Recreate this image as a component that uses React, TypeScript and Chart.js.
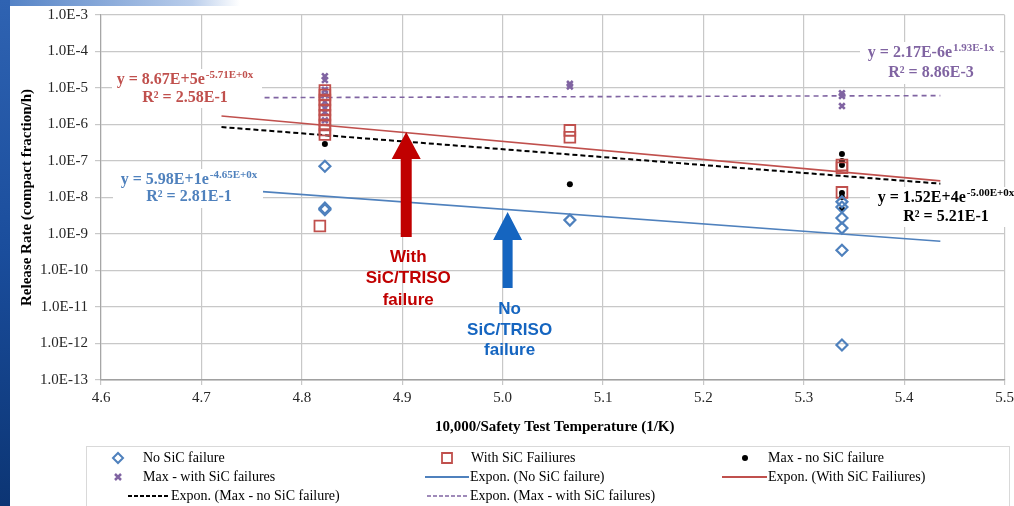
import React, { useEffect, useRef } from "react";
import { Chart, registerables } from "chart.js";

Chart.register(...registerables);

// ---- axis ticks ----
const xTickValues = [4.6, 4.7, 4.8, 4.9, 5.0, 5.1, 5.2, 5.3, 5.4, 5.5];
const xTickLabels = ["4.6", "4.7", "4.8", "4.9", "5.0", "5.1", "5.2", "5.3", "5.4", "5.5"];
const yTickValues = [1e-13, 1e-12, 1e-11, 1e-10, 1e-9, 1e-8, 1e-7, 1e-6, 1e-5, 1e-4, 1e-3];
const yTickLabels = ["1.0E-13", "1.0E-12", "1.0E-11", "1.0E-10", "1.0E-9", "1.0E-8", "1.0E-7", "1.0E-6", "1.0E-5", "1.0E-4", "1.0E-3"];

// ---- series: No SiC failure ----
const noSiCX = [4.823, 4.823, 4.823, 5.067, 5.338, 5.338, 5.338, 5.338, 5.338, 5.338];
const noSiCY = [7.2e-8, 5.1e-9, 4.6e-9, 2.4e-9, 7.6e-9, 5.5e-9, 2.75e-9, 1.45e-9, 3.6e-10, 9.1e-13];

// ---- series: With SiC Failiures ----
const withSiCX = [4.823, 4.823, 4.823, 4.823, 4.823, 4.823, 4.823, 4.823, 4.823, 4.823, 4.818, 5.067, 5.067, 5.338, 5.338, 5.338];
const withSiCY = [8.55e-6, 6.4e-6, 4.7e-6, 3.4e-6, 2.5e-6, 1.8e-6, 1.33e-6, 9.7e-7, 7.1e-7, 5.3e-7, 1.66e-9, 6.9e-7, 4.5e-7, 7.8e-8, 6.5e-8, 1.38e-8];

// ---- series: Max - no SiC failure ----
const maxNoSiCX = [4.823, 5.067, 5.338, 5.338, 5.338, 5.338, 5.338, 5.338];
const maxNoSiCY = [2.9e-7, 2.3e-8, 1.56e-7, 1.0e-7, 7.8e-8, 1.33e-8, 1.03e-8, 4.85e-9];

// ---- series: Max - with SiC failures ----
const maxWithSiCX = [4.823, 4.823, 4.823, 4.823, 4.823, 4.823, 4.823, 4.823, 5.067, 5.067, 5.338, 5.338, 5.338];
const maxWithSiCY = [2.1e-5, 1.66e-5, 8.9e-6, 6.5e-6, 4.2e-6, 2.8e-6, 2.2e-6, 1.3e-6, 1.3e-5, 1.1e-5, 7.2e-6, 6.0e-6, 3.2e-6];

// ---- exponential trendlines (end points) ----
const trendNoSiCX = [4.72, 5.436];
const trendNoSiCY = [1.75e-8, 6.3e-10];
const trendWithSiCX = [4.72, 5.436];
const trendWithSiCY = [1.71e-6, 2.86e-8];
const trendMaxNoSiCX = [4.72, 5.436];
const trendMaxNoSiCY = [8.5e-7, 2.39e-8];
const trendMaxWithSiCX = [4.745, 5.436];
const trendMaxWithSiCY = [5.42e-6, 6.2e-6];

// ---- labels ----
const legendLabels = [
  "No SiC failure",
  "With SiC Failiures",
  "Max - no SiC failure",
  "Max - with SiC failures",
  "Expon. (No SiC failure)",
  "Expon. (With SiC Failiures)",
  "Expon. (Max - no SiC failure)",
  "Expon. (Max - with SiC failures)",
];
const xTitle = "10,000/Safety Test Temperature (1/K)";
const yTitle = "Release Rate (compact fraction/h)";

const BLUE = "#4F81BD";
const RED = "#C0504D";
const PURPLE = "#8064A2";
const BLACK = "#000000";
const SERIF = "'Liberation Serif', 'Times New Roman', serif";
const SANS = "'Liberation Sans', Arial, sans-serif";

const pts = (xs: number[], ys: number[]) => xs.map((x, i) => ({ x, y: ys[i] }));

function drawMarker(ctx: CanvasRenderingContext2D, kind: string, x: number, y: number) {
  ctx.save();
  ctx.beginPath();
  if (kind === "diamond") {
    ctx.strokeStyle = BLUE;
    ctx.lineWidth = 2;
    ctx.moveTo(x - 5, y);
    ctx.lineTo(x, y - 5);
    ctx.lineTo(x + 5, y);
    ctx.lineTo(x, y + 5);
    ctx.closePath();
    ctx.stroke();
  } else if (kind === "square") {
    ctx.strokeStyle = RED;
    ctx.lineWidth = 1.8;
    ctx.rect(x - 5, y - 5, 10, 10);
    ctx.stroke();
  } else if (kind === "dot") {
    ctx.fillStyle = BLACK;
    ctx.arc(x, y, 3, 0, Math.PI * 2);
    ctx.fill();
  } else if (kind === "x") {
    ctx.strokeStyle = PURPLE;
    ctx.lineWidth = 2.5;
    ctx.moveTo(x - 3, y - 3);
    ctx.lineTo(x + 3, y + 3);
    ctx.moveTo(x + 3, y - 3);
    ctx.lineTo(x - 3, y + 3);
    ctx.stroke();
  }
  ctx.restore();
}

function drawLineSample(ctx: CanvasRenderingContext2D, x0: number, x1: number, y: number, color: string, dash: number[], w: number) {
  ctx.save();
  ctx.strokeStyle = color;
  ctx.lineWidth = w;
  ctx.setLineDash(dash);
  ctx.beginPath();
  ctx.moveTo(x0, y);
  ctx.lineTo(x1, y);
  ctx.stroke();
  ctx.restore();
}

function drawEquation(
  ctx: CanvasRenderingContext2D,
  cx: number,
  y1: number,
  y2: number,
  main: string,
  sup: string,
  r2: string,
  color: string,
  box: number[]
) {
  ctx.save();
  ctx.fillStyle = "#ffffff";
  ctx.fillRect(box[0], box[1], box[2] - box[0], box[3] - box[1]);
  ctx.fillStyle = color;
  ctx.textBaseline = "middle";
  ctx.textAlign = "left";
  ctx.font = `bold 16px ${SERIF}`;
  const w1 = ctx.measureText(main).width;
  ctx.font = `bold 11px ${SERIF}`;
  const w2 = ctx.measureText(sup).width;
  const start = cx - (w1 + w2 + 1) / 2;
  ctx.font = `bold 16px ${SERIF}`;
  ctx.fillText(main, start, y1);
  ctx.font = `bold 11px ${SERIF}`;
  ctx.fillText(sup, start + w1 + 1, y1 - 5);
  ctx.font = `bold 16px ${SERIF}`;
  ctx.textAlign = "center";
  ctx.fillText(r2, cx, y2);
  ctx.restore();
}

function drawArrow(ctx: CanvasRenderingContext2D, tx: number, ty: number, len: number, head: number, headHalf: number, shaftHalf: number, color: string) {
  ctx.save();
  ctx.fillStyle = color;
  ctx.beginPath();
  ctx.moveTo(tx, ty);
  ctx.lineTo(tx + headHalf, ty + head);
  ctx.lineTo(tx + shaftHalf, ty + head);
  ctx.lineTo(tx + shaftHalf, ty + len);
  ctx.lineTo(tx - shaftHalf, ty + len);
  ctx.lineTo(tx - shaftHalf, ty + head);
  ctx.lineTo(tx - headHalf, ty + head);
  ctx.closePath();
  ctx.fill();
  ctx.restore();
}

const overlayPlugin = {
  id: "overlay",
  afterDatasetsDraw(chart: any) {
    const ctx: CanvasRenderingContext2D = chart.ctx;
    const xs = chart.scales.x;
    const ys = chart.scales.y;

    // trendline equations
    drawEquation(ctx, 185, 80, 98, "y = 8.67E+5e", "-5.71E+0x", "R² = 2.58E-1", RED, [112, 69, 262, 108]);
    drawEquation(ctx, 189, 180, 197, "y = 5.98E+1e", "-4.65E+0x", "R² = 2.81E-1", BLUE, [113, 169, 263, 208]);
    drawEquation(ctx, 931, 53, 73, "y = 2.17E-6e", "1.93E-1x", "R² = 8.86E-3", PURPLE, [860, 42, 1000, 84]);
    drawEquation(ctx, 946, 198, 217, "y = 1.52E+4e", "-5.00E+0x", "R² = 5.21E-1", BLACK, [870, 187, 1014, 227]);

    // arrows
    const rtx = xs.getPixelForValue(4.904);
    const rty = ys.getPixelForValue(6.2e-7);
    drawArrow(ctx, rtx, rty, 105, 27, 14.5, 5.5, "#C00000");
    const btx = xs.getPixelForValue(5.005);
    const bty = ys.getPixelForValue(4.0e-9);
    drawArrow(ctx, btx, bty, 76, 28, 14.5, 5, "#1565C0");

    ctx.save();
    ctx.font = `bold 17px ${SANS}`;
    ctx.textAlign = "center";
    ctx.textBaseline = "middle";
    ctx.fillStyle = "#C00000";
    ctx.fillText("With", rtx + 2, rty + 125);
    ctx.fillText("SiC/TRISO", rtx + 2, rty + 146);
    ctx.fillText("failure", rtx + 2, rty + 168);
    ctx.fillStyle = "#1565C0";
    ctx.fillText("No", btx + 2, bty + 97);
    ctx.fillText("SiC/TRISO", btx + 2, bty + 118);
    ctx.fillText("failure", btx + 2, bty + 138);
    ctx.restore();

    // axis titles
    ctx.save();
    ctx.fillStyle = "#000";
    ctx.font = `bold 15px ${SERIF}`;
    ctx.textAlign = "center";
    ctx.textBaseline = "middle";
    ctx.fillText(xTitle, (xs.left + xs.right) / 2 + 2, 427);
    ctx.translate(27, (ys.top + ys.bottom) / 2);
    ctx.rotate(-Math.PI / 2);
    ctx.fillText(yTitle, 0, 0);
    ctx.restore();

    // legend
    ctx.save();
    ctx.strokeStyle = "#d9d9d9";
    ctx.lineWidth = 1;
    ctx.strokeRect(86.5, 446.5, 923, 70);
    ctx.fillStyle = "#000";
    ctx.font = `14px ${SERIF}`;
    ctx.textAlign = "left";
    ctx.textBaseline = "middle";
    const r1 = 458, r2 = 477, r3 = 496;
    drawMarker(ctx, "diamond", 118, r1);
    ctx.fillText(legendLabels[0], 143, r1);
    drawMarker(ctx, "square", 447, r1);
    ctx.fillText(legendLabels[1], 471, r1);
    drawMarker(ctx, "dot", 745, r1);
    ctx.fillText(legendLabels[2], 768, r1);
    drawMarker(ctx, "x", 118, r2);
    ctx.fillText(legendLabels[3], 143, r2);
    drawLineSample(ctx, 425, 469, r2, BLUE, [], 2);
    ctx.fillText(legendLabels[4], 470, r2);
    drawLineSample(ctx, 722, 767, r2, RED, [], 2);
    ctx.fillText(legendLabels[5], 768, r2);
    drawLineSample(ctx, 128, 170, r3, BLACK, [4, 2], 2);
    ctx.fillText(legendLabels[6], 171, r3);
    drawLineSample(ctx, 427, 469, r3, PURPLE, [4, 2], 1.5);
    ctx.fillText(legendLabels[7], 470, r3);
    ctx.restore();
  },
};

export default function App() {
  const ref = useRef<HTMLCanvasElement | null>(null);

  useEffect(() => {
    if (!ref.current) return;
    const gridColor = "#c8c8c8";
    const chart = new Chart(ref.current, {
      type: "scatter",
      data: {
        datasets: [
          {
            label: legendLabels[0],
            data: pts(noSiCX, noSiCY),
            pointStyle: "rectRot",
            pointRadius: 5.5,
            borderColor: BLUE,
            backgroundColor: "rgba(0,0,0,0)",
            borderWidth: 2.2,
          },
          {
            label: legendLabels[1],
            data: pts(withSiCX, withSiCY),
            pointStyle: "rect",
            pointRadius: 7.6,
            borderColor: RED,
            backgroundColor: "rgba(0,0,0,0)",
            borderWidth: 1.8,
          },
          {
            label: legendLabels[2],
            data: pts(maxNoSiCX, maxNoSiCY),
            pointStyle: "circle",
            pointRadius: 3,
            borderColor: BLACK,
            backgroundColor: BLACK,
            borderWidth: 0,
          },
          {
            label: legendLabels[3],
            data: pts(maxWithSiCX, maxWithSiCY),
            pointStyle: "crossRot",
            pointRadius: 4,
            borderColor: PURPLE,
            backgroundColor: PURPLE,
            borderWidth: 2.6,
          },
          {
            label: legendLabels[4],
            data: pts(trendNoSiCX, trendNoSiCY),
            showLine: true,
            pointRadius: 0,
            borderColor: BLUE,
            borderWidth: 1.6,
          },
          {
            label: legendLabels[5],
            data: pts(trendWithSiCX, trendWithSiCY),
            showLine: true,
            pointRadius: 0,
            borderColor: RED,
            borderWidth: 1.6,
          },
          {
            label: legendLabels[6],
            data: pts(trendMaxNoSiCX, trendMaxNoSiCY),
            showLine: true,
            pointRadius: 0,
            borderColor: BLACK,
            borderWidth: 2,
            borderDash: [5, 3],
          },
          {
            label: legendLabels[7],
            data: pts(trendMaxWithSiCX, trendMaxWithSiCY),
            showLine: true,
            pointRadius: 0,
            borderColor: PURPLE,
            borderWidth: 1.6,
            borderDash: [5, 4],
          },
        ],
      },
      options: {
        responsive: true,
        maintainAspectRatio: false,
        animation: false,
        layout: { padding: { top: 15, right: 4, left: 0, bottom: 0 } },
        plugins: {
          legend: { display: false },
          tooltip: { enabled: false },
          title: { display: false },
        },
        scales: {
          x: {
            type: "linear",
            min: 4.6,
            max: 5.5,
            afterBuildTicks: (scale: any) => {
              scale.ticks = xTickValues.map((v) => ({ value: v }));
            },
            afterFit: (scale: any) => {
              scale.height = 126;
              scale.paddingLeft = 0;
              scale.paddingRight = 0;
            },
            ticks: {
              autoSkip: false,
              maxRotation: 0,
              padding: 4,
              color: "#262626",
              font: { family: SERIF, size: 15 },
              callback: (_v: any, i: number) => xTickLabels[i],
            },
            grid: { color: gridColor, lineWidth: 1.2, tickLength: 5, tickColor: gridColor },
            border: { color: "#a0a0a0", width: 1.5 },
          },
          y: {
            type: "logarithmic",
            min: 1e-13,
            max: 1e-3,
            afterBuildTicks: (scale: any) => {
              scale.ticks = yTickValues.map((v) => ({ value: v }));
            },
            afterFit: (scale: any) => {
              scale.width = 101;
              scale.paddingTop = 0;
              scale.paddingBottom = 0;
            },
            ticks: {
              autoSkip: false,
              padding: 7,
              color: "#262626",
              font: { family: SERIF, size: 15 },
              callback: (_v: any, i: number) => yTickLabels[i],
            },
            grid: { color: gridColor, lineWidth: 1.2, tickLength: 6, tickColor: gridColor },
            border: { color: "#a6a6a6", width: 1.2 },
          },
        },
      },
      plugins: [overlayPlugin],
    });
    return () => chart.destroy();
  }, []);

  return (
    <div style={{ position: "fixed", left: 0, top: 0, width: 1014, height: 506, background: "#ffffff", overflow: "hidden" }}>
      <canvas ref={ref} />
      <div
        style={{
          position: "absolute",
          left: 0,
          top: 0,
          width: 240,
          height: 6,
          background: "linear-gradient(to right, #4f7fc4, #b9cdeb 80%, #ffffff)",
        }}
      />
      <div
        style={{
          position: "absolute",
          left: 0,
          top: 0,
          width: 10,
          height: 506,
          background: "linear-gradient(to bottom, #2f63b2, #1a4d9c 50%, #0c3574)",
        }}
      />
    </div>
  );
}
